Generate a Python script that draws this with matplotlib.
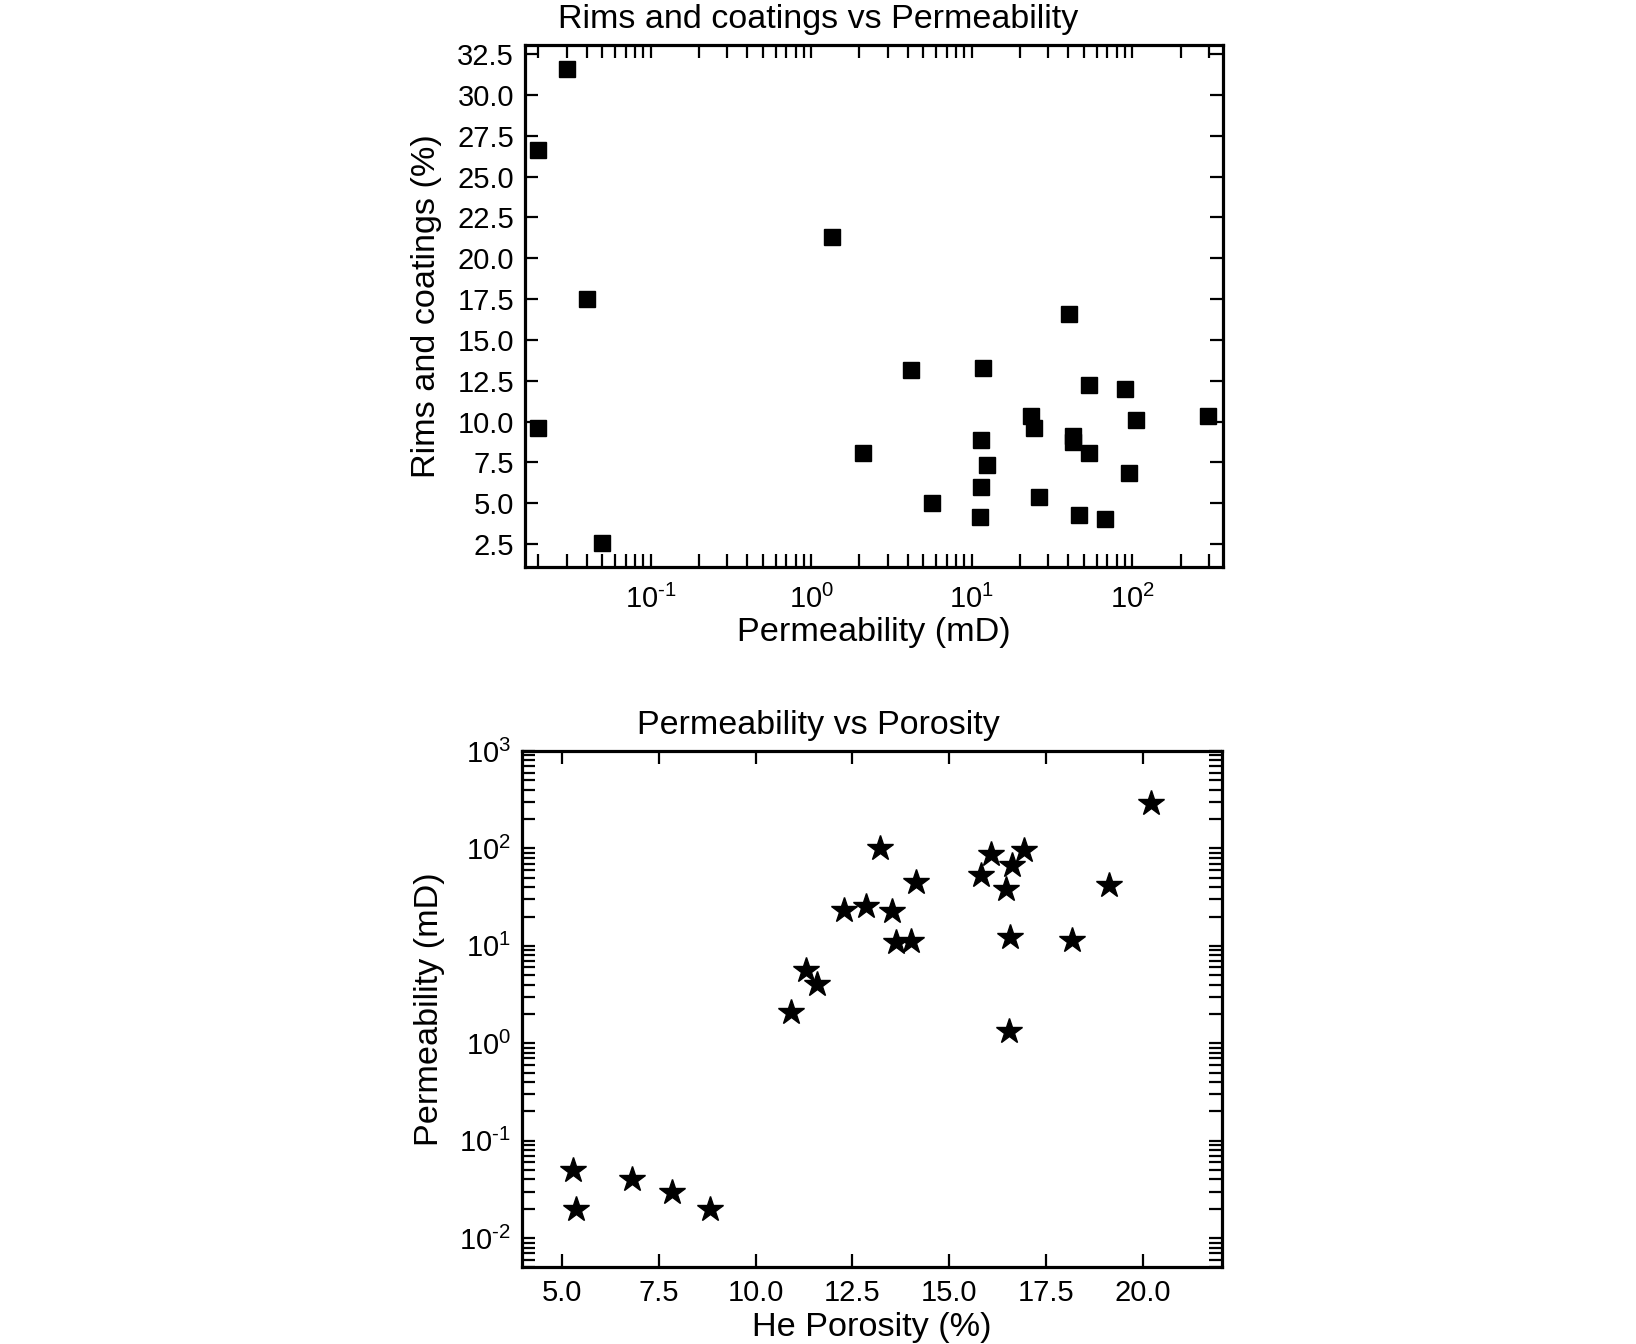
import matplotlib
matplotlib.use("Agg")
import numpy as np
import matplotlib.pyplot as plt
from matplotlib.ticker import LogLocator, MultipleLocator, NullLocator, FuncFormatter

plt.rcParams['font.family'] = ['Liberation Sans', 'DejaVu Sans']
plt.rcParams['mathtext.fontset'] = 'custom'
plt.rcParams['mathtext.rm'] = 'Liberation Sans'
plt.rcParams['mathtext.default'] = 'regular'
plt.rcParams['axes.unicode_minus'] = False

# top panel: rims and coatings vs permeability
perm_top = [0.02, 0.02, 0.03, 0.04, 0.05, 1.35, 2.1, 4.16, 5.62,
            11.2, 11.5, 11.5, 11.8, 12.5, 23.5, 24.5, 26.2,
            40.2, 42.6, 42.6, 46.4, 53.8, 53.8, 68.0, 90.0, 95.8, 105.0, 295.0]
rims = [26.6, 9.6, 31.6, 17.5, 2.6, 21.3, 8.08, 13.17, 4.99,
        4.16, 8.88, 5.97, 13.27, 7.36, 10.37, 9.59, 5.36,
        16.6, 9.1, 8.73, 4.26, 12.27, 8.08, 4.07, 11.98, 6.87, 10.08, 10.37]

# bottom panel: permeability vs porosity
porosity = [5.29, 5.36, 6.81, 7.83, 8.82, 10.91, 11.30, 11.59,
            12.28, 12.85, 13.21, 13.51, 13.62, 14.01, 14.13,
            15.83, 16.09, 16.46, 16.53, 16.57, 16.61, 16.93,
            18.18, 19.12, 20.2]
perm_bot = [0.05, 0.02, 0.04, 0.03, 0.02, 2.09, 5.6, 4.1,
            23.5, 25.5, 102.0, 23.0, 11.0, 11.2, 45.4,
            53.0, 88.7, 38.7, 1.33, 12.2, 67.3, 96.0,
            11.4, 41.9, 295.0]


def pow10(v, pos):
    e = int(round(np.log10(v)))
    if e < 0:
        return r'$10^{\text{-}%d}$' % (-e)
    return r'$10^{%d}$' % e


fig = plt.figure(figsize=(16.36, 13.44), dpi=100)
pos1 = [0.3209, 0.5781, 0.4267, 0.3884]
pos2 = [0.3191, 0.0570, 0.4278, 0.3842]
ax1 = fig.add_axes(pos1)
ax2 = fig.add_axes(pos2)

ax1.plot(perm_top, rims, 's', color='black', markersize=11.5, linestyle='none')
ax1.set_xscale('log')
ax1.set_xlim(0.0165, 368)
ax1.set_ylim(1.1, 33.05)
ax1.yaxis.set_major_locator(MultipleLocator(2.5))
ax1.yaxis.set_minor_locator(NullLocator())
ax1.xaxis.set_major_locator(LogLocator(base=10))
ax1.xaxis.set_minor_locator(LogLocator(base=10, subs=range(2, 10)))
ax1.xaxis.set_major_formatter(FuncFormatter(pow10))
# title is centred on the figure, not on the axes
ax1.set_title('Rims and coatings vs Permeability', fontsize=24.5, pad=12,
              x=(0.5 - pos1[0]) / pos1[2])
ax1.set_xlabel('Permeability (mD)', fontsize=24.7, labelpad=2)
ax1.set_ylabel('Rims and coatings (%)', fontsize=24.7, labelpad=11)

ax2.plot(porosity, perm_bot, '*', color='black', markersize=19, linestyle='none')
ax2.set_yscale('log')
ax2.set_xlim(3.97, 22.04)
ax2.set_ylim(0.005, 1000)
ax2.xaxis.set_major_locator(MultipleLocator(2.5))
ax2.xaxis.set_minor_locator(NullLocator())
ax2.yaxis.set_major_locator(LogLocator(base=10))
ax2.yaxis.set_minor_locator(LogLocator(base=10, subs=range(2, 10)))
ax2.yaxis.set_major_formatter(FuncFormatter(pow10))
ax2.set_title('Permeability vs Porosity', fontsize=24.5, pad=12,
              x=(0.5 - pos2[0]) / pos2[2])
ax2.set_xlabel('He Porosity (%)', fontsize=24.7, labelpad=4)
ax2.set_ylabel('Permeability (mD)', fontsize=24.7, labelpad=10)

for ax in (ax1, ax2):
    for s in ax.spines.values():
        s.set_linewidth(2.3)
    ax.tick_params(which='both', direction='in', top=True, right=True,
                   length=9.5, width=1.6, labelsize=21, pad=8)
ax1.tick_params(axis='x', which='both', pad=13)

fig.savefig('out.png', dpi=100)
